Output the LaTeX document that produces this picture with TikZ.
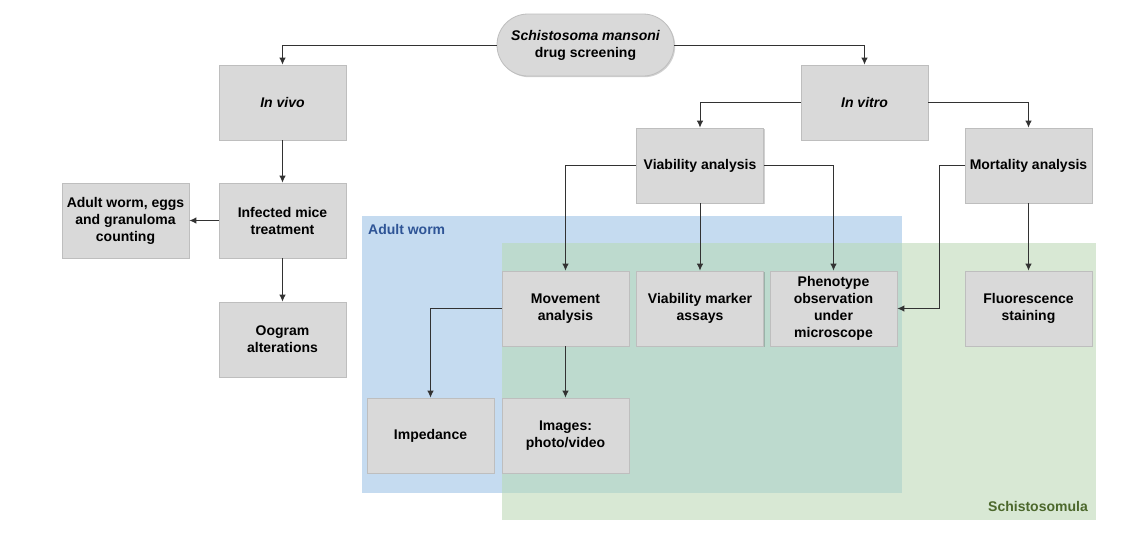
\documentclass[tikz,border=0pt]{standalone}
\usepackage{fontspec}
\setmainfont{Liberation Sans}
\usetikzlibrary{arrows.meta,shadows}
\definecolor{boxfill}{RGB}{217,217,217}
\definecolor{boxline}{RGB}{190,190,190}
\definecolor{bluereg}{RGB}{197,219,240}
\definecolor{greenreg}{RGB}{216,232,212}
\definecolor{overreg}{RGB}{189,218,206}
\definecolor{bluetxt}{RGB}{46,84,150}
\definecolor{greentxt}{RGB}{76,104,44}
\definecolor{linecol}{RGB}{50,50,50}
\begin{document}
\begin{tikzpicture}[x=1pt,y=-1pt,
  boxnode/.style={draw=boxline, fill=boxfill, line width=0.8pt, minimum width=127pt, minimum height=75pt,
    inner sep=1pt, align=center, font=\bfseries\fontsize{14}{17}\selectfont,
    drop shadow={shadow xshift=1.2pt, shadow yshift=-1.2pt, fill=black, opacity=0.18}},
  pillnode/.style={boxnode, minimum width=177pt, minimum height=62pt, rounded corners=30.9pt},
  conn/.style={draw=linecol, line width=0.9pt, -{Latex[length=7pt,width=6.5pt]}},
  reglabel/.style={font=\bfseries\fontsize{14}{17}\selectfont, inner sep=0pt}
]
\useasboundingbox (0,0) rectangle (1138,542);
\fill[white] (0,0) rectangle (1138,542);
% regions
\fill[bluereg] (362,216) rectangle (902,493);
\fill[greenreg] (502,243) rectangle (1096,520);
\fill[overreg] (502,243) rectangle (902,493);
\node[reglabel, text=bluetxt, anchor=west] (lblblue) at (368,229) {Adult worm};
\node[reglabel, text=greentxt, anchor=base east] (lblgreen) at (1088,511) {Schistosomula};
% nodes
\node[pillnode] (pill) at (585.5,45) {\itshape Schistosoma mansoni\\drug screening};
\node[boxnode] (invivo) at (282.5,102.5) {\itshape In vivo};
\node[boxnode] (infected) at (282.5,220.5) {Infected mice\\treatment};
\node[boxnode] (adultc) at (125.5,220.5) {Adult worm, eggs\\and granuloma\\counting};
\node[boxnode] (oogram) at (282.5,339.5) {Oogram\\alterations};
\node[boxnode] (invitro) at (864.5,102.5) {\itshape In vitro};
\node[boxnode] (viab) at (700,165.5) {Viability analysis};
\node[boxnode] (mort) at (1028.5,165.5) {Mortality analysis};
\node[boxnode] (move) at (565.5,308.5) {Movement\\analysis};
\node[boxnode] (vmarker) at (700,308.5) {Viability marker\\assays};
\node[boxnode] (pheno) at (833.5,308.5) {Phenotype\\observation\\under\\microscope};
\node[boxnode] (fluo) at (1028.5,308.5) {Fluorescence\\staining};
\node[boxnode] (imped) at (430.5,435.5) {Impedance};
\node[boxnode] (images) at (565.5,435.5) {Images:\\photo/video};
% connectors
\draw[conn] (pill.west) -| (invivo.north);
\draw[conn] (pill.east) -| (invitro.north);
\draw[conn] (invivo.south) -- (infected.north);
\draw[conn] (infected.west) -- (adultc.east);
\draw[conn] (infected.south) -- (oogram.north);
\draw[conn] (invitro.west) -| (viab.north);
\draw[conn] (invitro.east) -| (mort.north);
\draw[conn] (viab.west) -| (move.north);
\draw[conn] (viab.south) -- (vmarker.north);
\draw[conn] (viab.east) -| (pheno.north);
\draw[conn] (mort.west) -- ++(-25,0) |- (pheno.east);
\draw[conn] (mort.south) -- (fluo.north);
\draw[conn] (move.west) -| (imped.north);
\draw[conn] (move.south) -- (images.north);
\end{tikzpicture}
\end{document}
